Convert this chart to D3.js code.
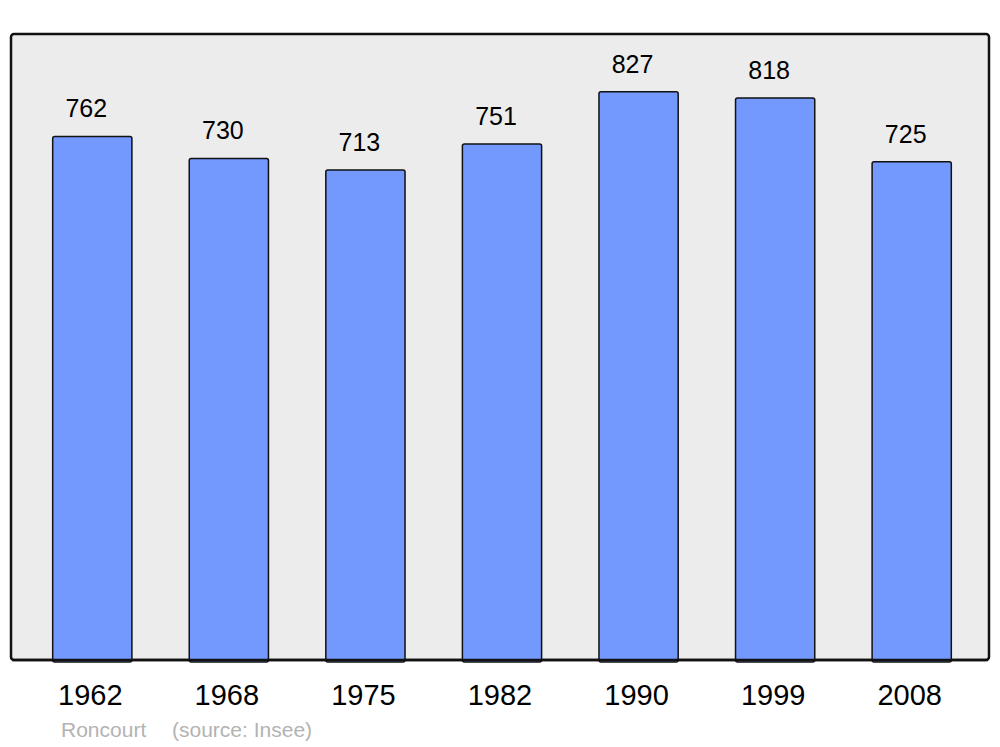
<!DOCTYPE html>
<html>
<head>
<meta charset="utf-8">
<script src="https://cdn.jsdelivr.net/npm/d3@7"></script>
<style>
  body { margin: 0; background: #fff; }
  text { font-family: "Liberation Sans", Arial, sans-serif; }
</style>
</head>
<body>
<div id="chart"></div>
<script>
// population data
const years = ["1962", "1968", "1975", "1982", "1990", "1999", "2008"];
const population = [762, 730, 713, 751, 827, 818, 725];
const town = "Roncourt";
const source = "(source: Insee)";

const width = 1000;
const height = 747;
const panel = { left: 11, right: 989, top: 34, bottom: 660 };

const svg = d3.select("#chart")
    .append("svg")
    .attr("width", width)
    .attr("height", height);

// background panel
svg.append("rect")
    .attr("x", panel.left)
    .attr("y", panel.top)
    .attr("width", panel.right - panel.left)
    .attr("height", panel.bottom - panel.top)
    .attr("rx", 3)
    .attr("fill", "#ececec")
    .attr("stroke", "#111")
    .attr("stroke-width", 2.5);

const x = d3.scaleBand()
    .domain(years)
    .range([24, 980])
    .paddingInner(0.42)
    .paddingOuter(0.21);

const y = d3.scaleLinear()
    .domain([0, 911])
    .range([panel.bottom, panel.top]);

const data = years.map((yr, i) => ({ year: yr, value: population[i] }));

// bars
svg.selectAll(".bar")
    .data(data)
    .enter()
    .append("rect")
    .attr("class", "bar")
    .attr("x", d => x(d.year))
    .attr("y", d => y(d.value))
    .attr("width", x.bandwidth())
    .attr("height", d => y(0) - y(d.value) + 2)
    .attr("rx", 2)
    .attr("fill", "#7399ff")
    .attr("stroke", "#111")
    .attr("stroke-width", 1.5);

// redraw bottom edge of panel over bars
svg.append("line")
    .attr("x1", panel.left + 1)
    .attr("x2", panel.right - 1)
    .attr("y1", panel.bottom)
    .attr("y2", panel.bottom)
    .attr("stroke", "#111")
    .attr("stroke-width", 2.5);

// value labels
svg.selectAll(".val")
    .data(data)
    .enter()
    .append("text")
    .attr("class", "val")
    .attr("x", d => x(d.year) + x.bandwidth() / 2 - 6)
    .attr("y", d => y(d.value) - 19)
    .attr("text-anchor", "middle")
    .style("font-size", "25px")
    .attr("fill", "#000")
    .text(d => d.value);

// year labels
svg.selectAll(".yr")
    .data(data)
    .enter()
    .append("text")
    .attr("class", "yr")
    .attr("x", d => x(d.year) + x.bandwidth() / 2 - 2)
    .attr("y", 705)
    .attr("text-anchor", "middle")
    .style("font-size", "29px")
    .attr("fill", "#000")
    .text(d => d.year);

// caption
svg.append("text")
    .attr("x", 61)
    .attr("y", 737)
    .style("font-size", "21px")
    .attr("fill", "#b3b3b3")
    .text(town);

svg.append("text")
    .attr("x", 172)
    .attr("y", 737)
    .style("font-size", "21px")
    .attr("fill", "#b3b3b3")
    .text(source);
</script>
</body>
</html>
